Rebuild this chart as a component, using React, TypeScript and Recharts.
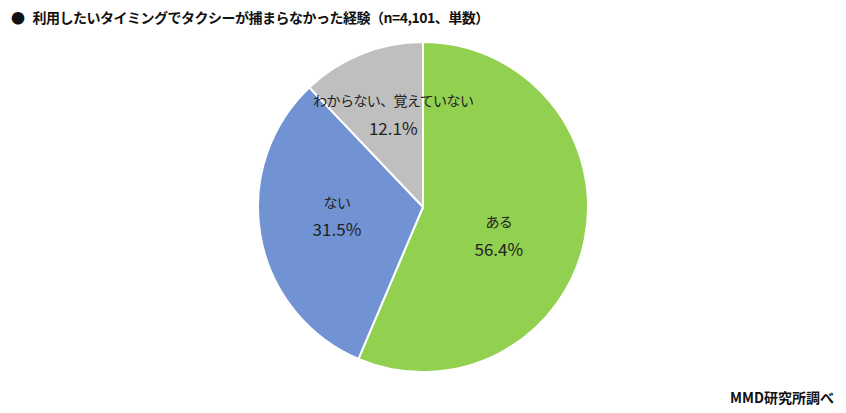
import { PieChart, Pie, Cell } from "recharts";

const categories = ["ある", "ない", "わからない、覚えていない"];
const shares = [56.4, 31.5, 12.1];
const COLORS = ["#92d050", "#7193d3", "#bfbfbf"];

const data = categories.map((name, i) => ({ name, value: shares[i] }));

const RADIAN = Math.PI / 180;
const FONT = "'Noto Sans CJK JP', 'Noto Sans', sans-serif";

// label distance from centre (share of radius) and small nudges
const LABEL_R = [0.5, 0.53, 0.6];
const LABEL_DX = [-5, 0, 7];
const LABEL_DY = [12, -7, -1];

function renderLabel(props: any) {
  const { cx, cy, midAngle, outerRadius, index } = props;
  const r = outerRadius * LABEL_R[index];
  const x = cx + r * Math.cos(-midAngle * RADIAN) + LABEL_DX[index];
  const y = cy + r * Math.sin(-midAngle * RADIAN) + LABEL_DY[index];
  return (
    <g>
      <text
        x={x}
        y={y - 14}
        textAnchor="middle"
        dominantBaseline="central"
        fill="#222"
        fontSize={14}
        letterSpacing={-0.6}
        fontFamily={FONT}
      >
        {categories[index]}
      </text>
      <text
        x={x}
        y={y + 13}
        textAnchor="middle"
        dominantBaseline="central"
        fill="#222"
        fontSize={17}
        fontFamily={FONT}
      >
        {shares[index].toFixed(1)}%
      </text>
    </g>
  );
}

export default function App() {
  return (
    <div
      style={{
        position: "fixed",
        left: 0,
        top: 0,
        width: 846,
        height: 413,
        background: "#fff",
        fontFamily: FONT,
      }}
    >
      <div
        style={{
          position: "absolute",
          left: 11,
          top: 7,
          fontSize: 14,
          letterSpacing: -0.5,
          fontWeight: 700,
          color: "#111",
          whiteSpace: "nowrap",
        }}
      >
        ●&nbsp;&nbsp;&nbsp;利用したいタイミングでタクシーが捕まらなかった経験（n=4,101、単数）
      </div>
      <PieChart width={846} height={413} margin={{ top: 0, right: 0, bottom: 0, left: 0 }}>
        <Pie
          data={data}
          cx={423}
          cy={207}
          outerRadius={165}
          startAngle={90}
          endAngle={-270}
          dataKey="value"
          stroke="#fff"
          strokeWidth={2}
          label={renderLabel}
          labelLine={false}
          isAnimationActive={false}
        >
          {data.map((_, i) => (
            <Cell key={i} fill={COLORS[i]} />
          ))}
        </Pie>
      </PieChart>
      <div
        style={{
          position: "absolute",
          right: 12,
          top: 387,
          fontSize: 14,
          fontWeight: 700,
          color: "#111",
          whiteSpace: "nowrap",
        }}
      >
        MMD研究所調べ
      </div>
    </div>
  );
}
